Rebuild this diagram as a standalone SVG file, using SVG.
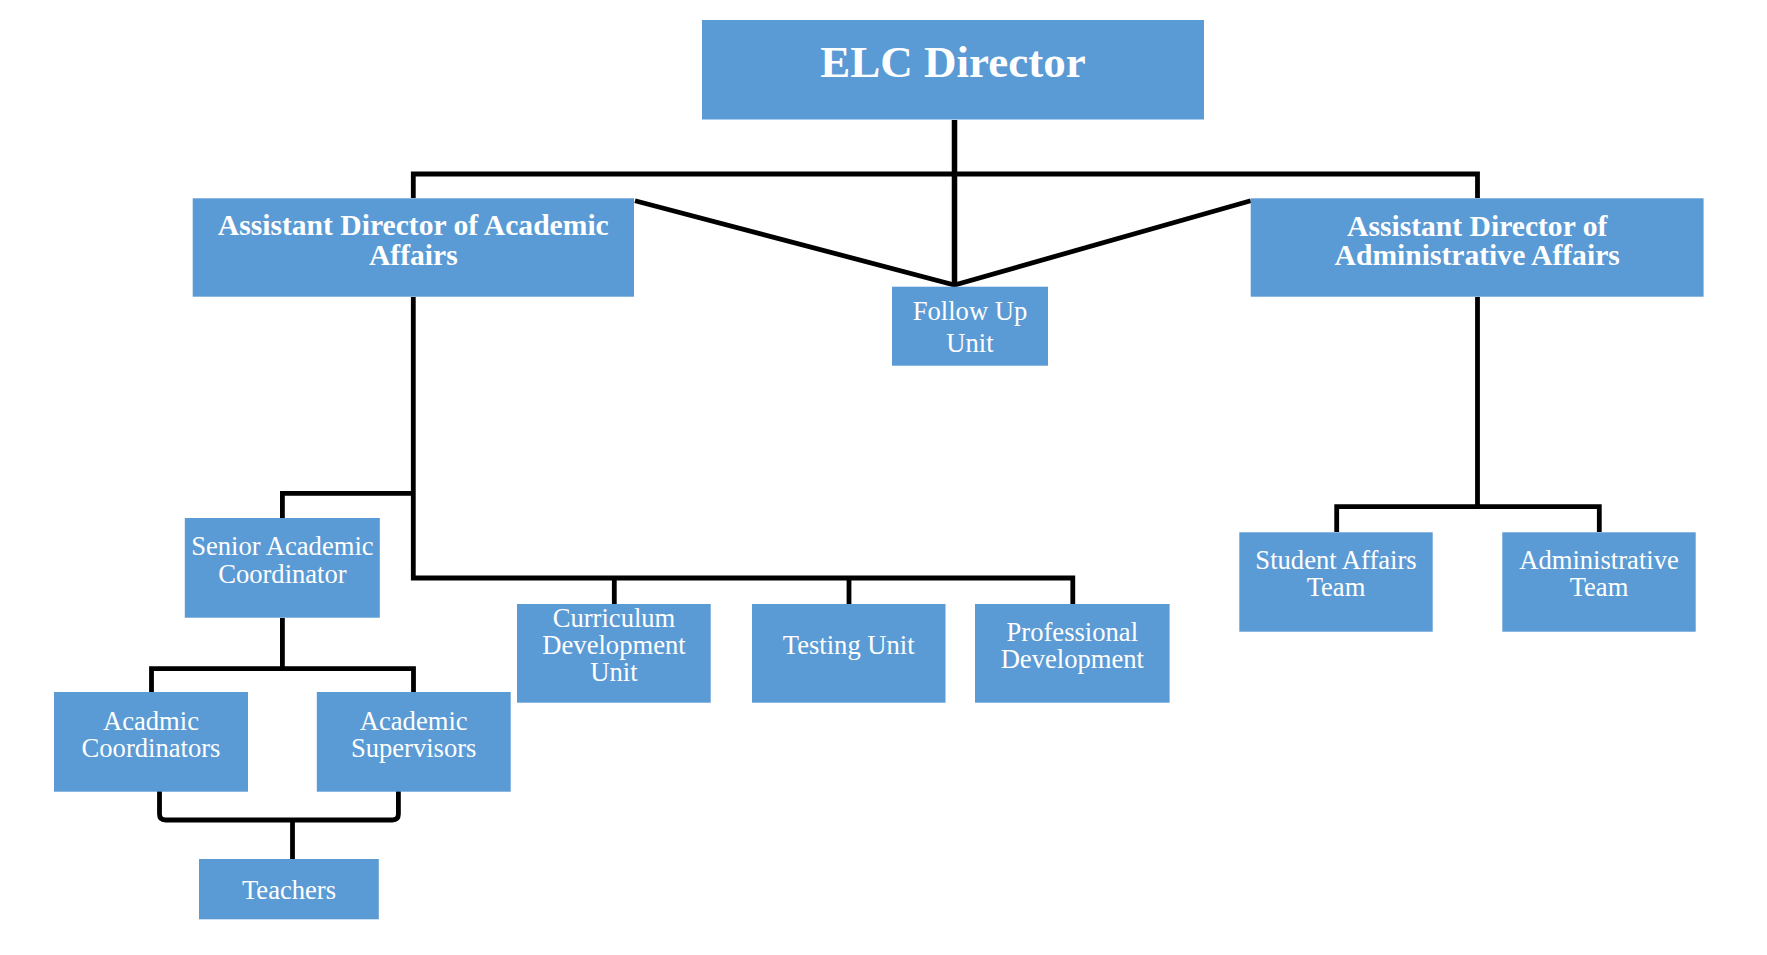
<svg xmlns="http://www.w3.org/2000/svg" width="1767" height="955" viewBox="0 0 1767 955">
<style>
.box{fill:#5B9BD5;}
.t{font-family:"Liberation Serif","Times New Roman",serif;font-size:26.6px;fill:#FFFFFF;text-anchor:middle;}
.b{font-family:"Liberation Serif","Times New Roman",serif;font-size:29.6px;font-weight:bold;fill:#FFFFFF;text-anchor:middle;}
.c{fill:none;stroke:#000000;stroke-width:4.8;stroke-linejoin:miter;stroke-linecap:butt;}
</style>
<rect width="1767" height="955" fill="#FFFFFF"/>
<g id="connectors">
<path class="c" d="M954.5 120 L954.5 285" style="stroke-width:5.5"/>
<path class="c" d="M413.3 198 L413.3 174 L1477.5 174 L1477.5 198"/>
<path class="c" d="M635 200.7 L954.5 285 L1250.7 200.7"/>
<path class="c" d="M413.3 297 L413.3 578 L1072.8 578 L1072.8 604"/>
<path class="c" d="M614.3 578 L614.3 604"/>
<path class="c" d="M849 578 L849 604"/>
<path class="c" d="M413.3 493.3 L282.4 493.3 L282.4 518"/>
<path class="c" d="M282.4 618 L282.4 668.7 M151.5 692 L151.5 668.7 L413.5 668.7 L413.5 692"/>
<path class="c" d="M159.5 789 L159.5 814 Q159.5 820 165.5 820 L392.4 820 Q398.4 820 398.4 814 L398.4 789"/>
<path class="c" d="M292.5 820 L292.5 859"/>
<path class="c" d="M1477.5 297 L1477.5 506.7 M1336.7 532 L1336.7 506.7 L1599.3 506.7 L1599.3 532"/>
</g>
<g id="elc-director">
<rect class="box" x="702" y="20" width="502" height="99.5"/>
<text class="b" x="953" y="77" style="font-size:45px">ELC Director</text>
</g>
<g id="ad-academic">
<rect class="box" x="192.7" y="198.3" width="441.3" height="98.4"/>
<text class="b" x="413.3" y="235">Assistant Director of Academic</text>
<text class="b" x="413.3" y="265">Affairs</text>
</g>
<g id="ad-administrative">
<rect class="box" x="1250.7" y="198.3" width="452.9" height="98.4"/>
<text class="b" x="1477.2" y="236">Assistant Director of</text>
<text class="b" x="1477.2" y="265">Administrative Affairs</text>
</g>
<g id="follow-up">
<rect class="box" x="892" y="286.7" width="156" height="79"/>
<text class="t" x="970" y="320">Follow Up</text>
<text class="t" x="970" y="351.7">Unit</text>
</g>
<g id="senior-academic">
<rect class="box" x="184.8" y="518" width="195" height="99.7"/>
<text class="t" x="282.4" y="555">Senior Academic</text>
<text class="t" x="282.4" y="582.5">Coordinator</text>
</g>
<g id="acadmic-coordinators">
<rect class="box" x="54" y="692" width="194" height="99.7"/>
<text class="t" x="151" y="730">Acadmic</text>
<text class="t" x="151" y="757">Coordinators</text>
</g>
<g id="academic-supervisors">
<rect class="box" x="316.8" y="692" width="193.9" height="99.7"/>
<text class="t" x="413.7" y="730">Academic</text>
<text class="t" x="413.7" y="757">Supervisors</text>
</g>
<g id="teachers">
<rect class="box" x="199" y="859" width="179.8" height="60.3"/>
<text class="t" x="289" y="899.3">Teachers</text>
</g>
<g id="curriculum">
<rect class="box" x="517" y="604" width="193.7" height="98.7"/>
<text class="t" x="614" y="626.7">Curriculum</text>
<text class="t" x="614" y="654">Development</text>
<text class="t" x="614" y="681">Unit</text>
</g>
<g id="testing">
<rect class="box" x="752" y="604" width="193.5" height="98.7"/>
<text class="t" x="848.7" y="654">Testing Unit</text>
</g>
<g id="professional">
<rect class="box" x="975" y="604" width="194.6" height="98.7"/>
<text class="t" x="1072.3" y="640.5">Professional</text>
<text class="t" x="1072.3" y="667.5">Development</text>
</g>
<g id="student-affairs">
<rect class="box" x="1239.3" y="532.3" width="193.4" height="99.4"/>
<text class="t" x="1336" y="569">Student Affairs</text>
<text class="t" x="1336" y="596">Team</text>
</g>
<g id="administrative-team">
<rect class="box" x="1502.3" y="532.3" width="193.4" height="99.4"/>
<text class="t" x="1599" y="569">Administrative</text>
<text class="t" x="1599" y="596">Team</text>
</g>
</svg>
